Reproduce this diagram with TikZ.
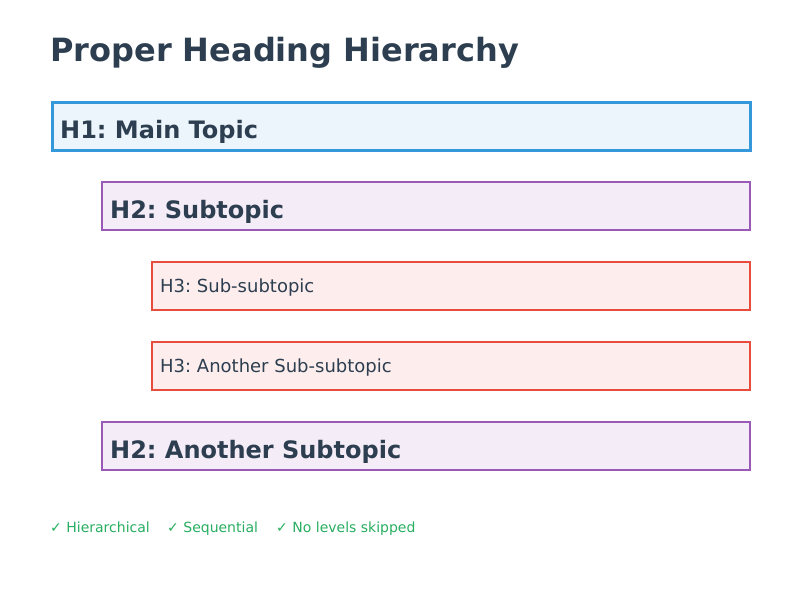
\documentclass[tikz,border=0pt]{standalone}
\usepackage{fontspec}
\setmainfont{DejaVu Sans}
\frenchspacing
\definecolor{ink}{HTML}{2C3E50}
\definecolor{cblue}{HTML}{3498DB}
\definecolor{cpurple}{HTML}{9B59B6}
\definecolor{cred}{HTML}{E74C3C}
\definecolor{cgreen}{HTML}{27AE60}
\definecolor{fblue}{HTML}{EBF5FB}
\definecolor{fpurple}{HTML}{F4ECF7}
\definecolor{fred}{HTML}{FDEDEC}
\tikzset{
  box/.style={rectangle, inner sep=0pt, anchor=north west, minimum height=48pt},
  hone/.style={box, draw=cblue, fill=fblue, line width=3pt},
  htwo/.style={box, draw=cpurple, fill=fpurple, line width=2pt},
  hthree/.style={box, draw=cred, fill=fred, line width=2pt},
  lbl/.style={anchor=base west, inner sep=0pt, text=ink},
  big/.style={lbl, font=\fontsize{24}{28}\selectfont\bfseries},
  small/.style={lbl, font=\fontsize{18}{21}\selectfont},
  foot/.style={anchor=base west, inner sep=0pt, text=cgreen, font=\fontsize{14}{17}\selectfont},
}
\begin{document}
\begin{tikzpicture}[x=1pt,y=-1pt]
\useasboundingbox (0,0) rectangle (800,600);
\node[lbl, font=\fontsize{32}{36}\selectfont\bfseries] (title) at (50,61) {Proper Heading Hierarchy};
\node[hone, minimum width=698pt] (b1) at (51,101) {};
\node[big] (t1) at (60,138) {H1: Main Topic};
\node[htwo, minimum width=648pt] (b2) at (101,181) {};
\node[big] (t2) at (110,218) {H2: Subtopic};
\node[hthree, minimum width=598pt] (b3) at (151,261) {};
\node[small] (t3) at (160,292) {H3: Sub-subtopic};
\node[hthree, minimum width=598pt] (b4) at (151,341) {};
\node[small] (t4) at (160,372) {H3: Another Sub-subtopic};
\node[htwo, minimum width=648pt] (b5) at (101,421) {};
\node[big] (t5) at (110,458) {H2: Another Subtopic};
\node[foot] (f1) at (50,532) {✓ Hierarchical};
\node[foot] (f2) at (167,532) {✓ Sequential};
\node[foot] (f3) at (276,532) {✓ No levels skipped};
\end{tikzpicture}
\end{document}
